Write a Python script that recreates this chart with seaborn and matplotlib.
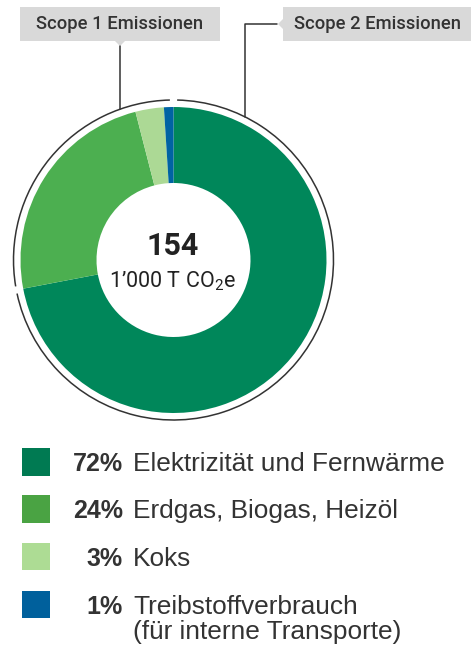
import numpy as np
import pandas as pd
import matplotlib
matplotlib.use("Agg")
import matplotlib.pyplot as plt
from matplotlib.patches import Arc, Rectangle, Polygon
import seaborn as sns

# Daten
LABELS   = ["Elektrizität und Fernwärme", "Erdgas, Biogas, Heizöl", "Koks",
            "Treibstoffverbrauch\n(für interne Transporte)"]
SHARES   = [72, 24, 3, 1]
PCT_TEXT = ["72%", "24%", "3%", "1%"]
SCOPES   = ["Scope 2 Emissionen", "Scope 1 Emissionen"]
SCOPE_SHARES = [72, 28]
TOTAL    = "154"
UNIT     = "1\u2019000 T CO$_\\mathregular{2}$e"

COLORS = ["#00875a", "#4caf50", "#acd995", "#0063a3"]
LEG_COLORS = ["#007a52", "#4aa343", "#addc94", "#00609c"]
DARK = "#333333"

sns.set_theme(style="white")
plt.rcParams["font.family"] = ["Roboto", "DejaVu Sans"]
plt.rcParams["mathtext.fontset"] = "custom"
plt.rcParams["mathtext.rm"] = "Roboto"
plt.rcParams["mathtext.default"] = "regular"

W, H = 471, 654
fig = plt.figure(figsize=(W / 100, H / 100), dpi=100)
ax = fig.add_axes([0, 0, 1, 1])

# ─── Donut ───
cx, cy = 173.5, H - 260
R, RING = 153, 76
ax.pie(SHARES, colors=COLORS, startangle=90, counterclock=False,
       center=(cx, cy), radius=R,
       wedgeprops=dict(width=RING, linewidth=0))

ax.text(cx - 1, H - 255, TOTAL, ha="center", va="baseline", fontsize=22,
        fontweight="bold", color="#222222")
ax.text(cx - 1, H - 287, UNIT, ha="center", va="baseline", fontsize=15.5,
        color="#222222")

# ─── Scope-Bögen ───
R_ARC = 160
gap = 1.3
ang = 90.0
for share in SCOPE_SHARES:
    span = share / 100 * 360
    ax.add_patch(Arc((cx, cy), 2 * R_ARC, 2 * R_ARC,
                     theta1=ang - span + gap, theta2=ang - gap,
                     color=DARK, lw=1.1))
    ang -= span

# Scope 1 Box
ax.add_patch(Rectangle((20, H - 41), 200, 34, color="#d9d9d9", lw=0))
ax.add_patch(Polygon([(115, H - 41), (125, H - 41), (120, H - 46)],
                     color="#d9d9d9", lw=0))
ax.text(120, H - 24, SCOPES[1], ha="center", va="center", fontsize=13.2,
        fontweight="medium", color=DARK)
x1 = 120
y1 = cy + np.sqrt(R_ARC ** 2 - (x1 - cx) ** 2)
ax.plot([x1, x1], [H - 46, y1], color=DARK, lw=1.1)

# Scope 2 Box
ax.add_patch(Rectangle((283, H - 41), 200, 34, color="#d9d9d9", lw=0))
ax.add_patch(Polygon([(283, H - 19), (283, H - 29), (278, H - 24)],
                     color="#d9d9d9", lw=0))
ax.text(378, H - 24, SCOPES[0], ha="center", va="center", fontsize=13.2,
        fontweight="medium", color=DARK)
x2 = 245
y2 = cy + np.sqrt(R_ARC ** 2 - (x2 - cx) ** 2)
ax.plot([277, x2, x2], [H - 24, H - 24, y2], color=DARK, lw=1.1)

# ─── Legende ───
ROW_Y = [462, 509, 556.5, 604.5]
leg = pd.DataFrame({"x": [36] * 4, "y": [H - y for y in ROW_Y], "label": LABELS})
sns.scatterplot(data=leg, x="x", y="y", hue="label", palette=LEG_COLORS,
                marker="s", s=400, linewidth=0, legend=False, ax=ax)

for y, pct, lab in zip(ROW_Y, PCT_TEXT, LABELS):
    ax.text(123, H - y - 9, pct, ha="right", va="baseline", fontsize=18,
            fontweight="bold", color=DARK, family="Liberation Sans")
    for k, line in enumerate(lab.split("\n")):
        ax.text(133, H - y - 9 - 26 * k, line, ha="left", va="baseline",
                fontsize=18.9, color=DARK, family="Liberation Sans")

ax.set_xlim(0, W)
ax.set_ylim(0, H)
ax.set_aspect("equal")
ax.axis("off")

fig.savefig("out.png", dpi=100)
